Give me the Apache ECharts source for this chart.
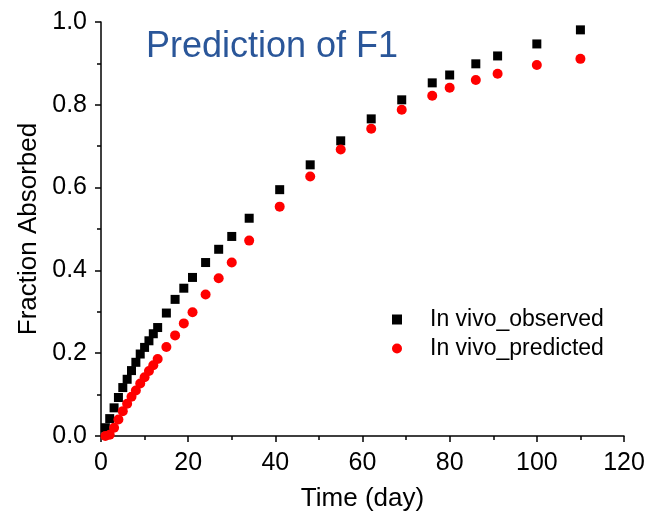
<!DOCTYPE html>
<html>
<head>
<meta charset="utf-8">
<script src="https://cdn.jsdelivr.net/npm/echarts@6/dist/echarts.min.js"></script>
<style>html,body{margin:0;padding:0;background:#fff}#c{width:650px;height:517px}</style>
</head>
<body>
<div id="c"></div>
<script>
var titleText = 'Prediction of F1';
var xName = 'Time (day)';
var yName = 'Fraction Absorbed';
var seriesNames = ['In vivo_observed', 'In vivo_predicted'];
var xTicks = [0, 20, 40, 60, 80, 100, 120];
var yTicks = [0.0, 0.2, 0.4, 0.6, 0.8, 1.0];

var observedDays = [1,2,3,4,5,6,7,8,9,10,11,12,13,15,17,19,21,24,27,30,34,41,48,55,62,69,76,80,86,91,100,110];
var observedVals = [0.02,0.042,0.068,0.093,0.117,0.137,0.158,0.178,0.198,0.214,0.23,0.247,0.262,0.297,0.33,0.357,0.383,0.419,0.451,0.482,0.526,0.595,0.655,0.713,0.766,0.812,0.853,0.872,0.899,0.918,0.947,0.981];

var predictedDays = [1,2,3,4,5,6,7,8,9,10,11,12,13,15,17,19,21,24,27,30,34,41,48,55,62,69,76,80,86,91,100,110];
var predictedVals = [0.0,0.003,0.02,0.04,0.06,0.078,0.095,0.11,0.127,0.142,0.157,0.171,0.186,0.215,0.243,0.272,0.299,0.342,0.381,0.419,0.472,0.554,0.627,0.692,0.742,0.788,0.822,0.841,0.860,0.875,0.896,0.911];

function pairs(xs, ys){ return xs.map(function(x,i){ return [x, ys[i]]; }); }

var font = 'Arial, "Liberation Sans", sans-serif';
var chart = echarts.init(document.getElementById('c'), null, {renderer:'canvas'});
chart.setOption({
  animation: false,
  backgroundColor: '#fff',
  title: {
    text: titleText, left: 141, top: 24,
    textStyle: {color: '#2a5699', fontSize: 36, fontWeight: 'normal', fontFamily: font}
  },
  legend: {
    orient: 'vertical', left: 387, top: 303,
    itemWidth: 10, itemHeight: 10, itemGap: 6,
    data: seriesNames,
    textStyle: {fontSize: 23, fontFamily: font, color: '#000', lineHeight: 23, padding: [0,0,0,23]}
  },
  grid: {left: 101, right: 26, top: 22, bottom: 80},
  xAxis: {
    type: 'value', min: xTicks[0], max: xTicks[xTicks.length-1], interval: 20,
    name: xName, nameLocation: 'middle', nameGap: 50,
    nameTextStyle: {fontSize: 26, fontFamily: font, color: '#000'},
    axisLine: {onZero: false, lineStyle: {color: '#000', width: 1.5}},
    axisTick: {show: true, length: 6, inside: false, lineStyle: {color: '#000', width: 1.5}},
    minorTick: {show: true, splitNumber: 2, length: 4, lineStyle: {color: '#000', width: 1.5}},
    axisLabel: {fontSize: 25, fontFamily: font, color: '#000', margin: 15},
    splitLine: {show: false}
  },
  yAxis: {
    type: 'value', min: yTicks[0], max: yTicks[yTicks.length-1], interval: 0.2,
    name: yName, nameLocation: 'middle', nameGap: 58,
    nameTextStyle: {fontSize: 26, fontFamily: font, color: '#000'},
    axisLine: {show: true, onZero: false, lineStyle: {color: '#000', width: 1.5}},
    axisTick: {show: true, length: 6, inside: false, lineStyle: {color: '#000', width: 1.5}},
    minorTick: {show: true, splitNumber: 2, length: 4, lineStyle: {color: '#000', width: 1.5}},
    axisLabel: {fontSize: 25, fontFamily: font, color: '#000', margin: 14,
      formatter: function(v){ return v.toFixed(1); }},
    splitLine: {show: false}
  },
  series: [
    {name: seriesNames[0], type: 'scatter', symbol: 'rect', symbolSize: 9, clip: false,
     itemStyle: {color: '#000', opacity: 1}, data: pairs(observedDays, observedVals)},
    {name: seriesNames[1], type: 'scatter', symbol: 'circle', symbolSize: 10, clip: false,
     itemStyle: {color: '#ff0000', opacity: 1}, data: pairs(predictedDays, predictedVals)}
  ]
});
</script>
</body>
</html>
